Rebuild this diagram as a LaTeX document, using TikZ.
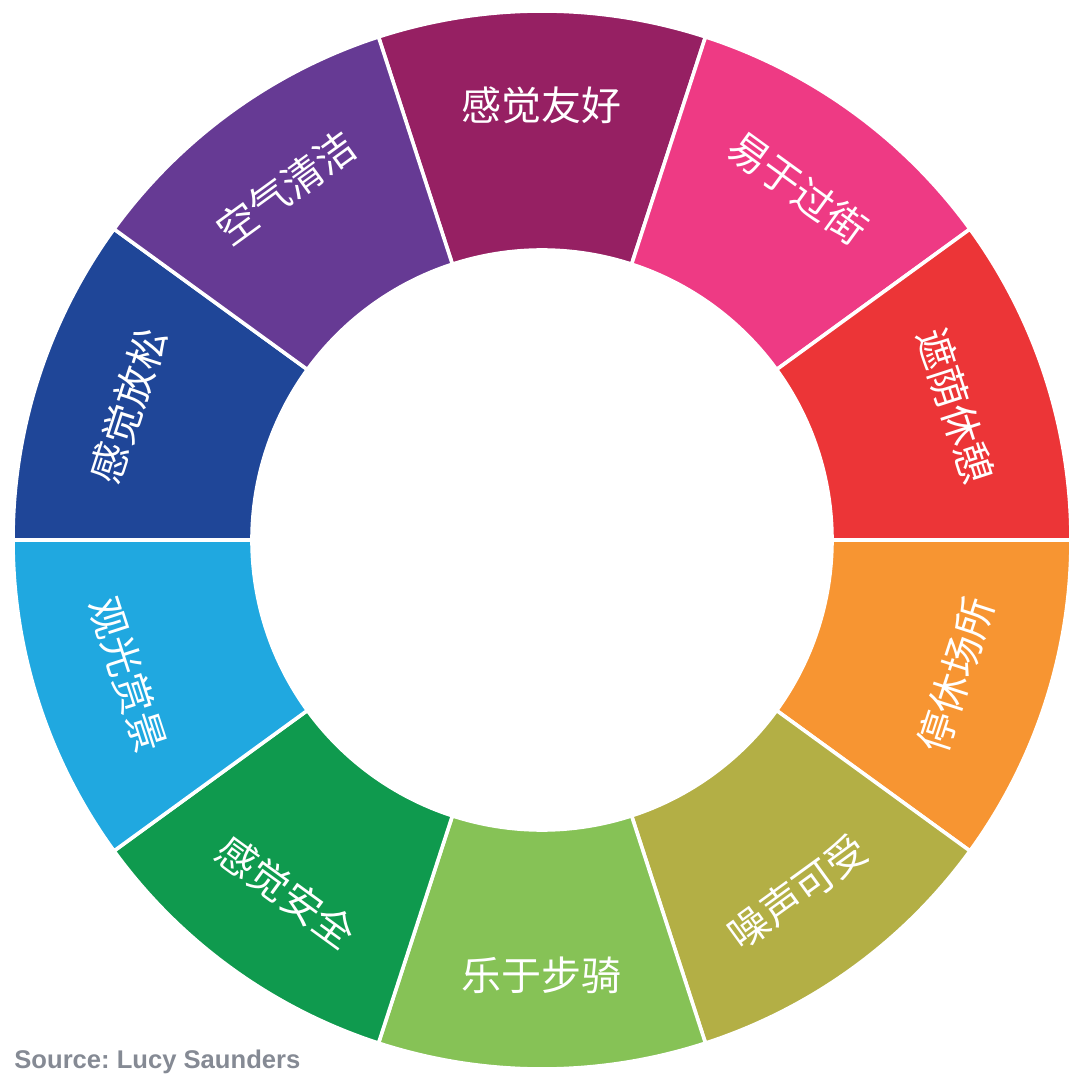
\documentclass[tikz,border=0pt]{standalone}
\usepackage{fontspec}
\setmainfont{Liberation Sans}
\newfontfamily\cjk{Noto Sans CJK SC}
\definecolor{friendly}{HTML}{962063}
\definecolor{crossing}{HTML}{EE3A84}
\definecolor{shade}{HTML}{EC3537}
\definecolor{stopping}{HTML}{F79532}
\definecolor{noise}{HTML}{B3AF45}
\definecolor{cycling}{HTML}{86C256}
\definecolor{safe}{HTML}{0F9A4E}
\definecolor{views}{HTML}{20A8E0}
\definecolor{relaxed}{HTML}{1F4698}
\definecolor{cleanair}{HTML}{663A94}
\definecolor{sourcegray}{HTML}{858A94}
\frenchspacing
\begin{document}
\begin{tikzpicture}[
  x=0.5pt, y=0.5pt,
  seg/.style={draw=white, line width=1.8pt},
  seglabel/.style={text=white, inner sep=0pt, font=\cjk\fontsize{20}{20}\selectfont}
]
\useasboundingbox (-542,-542) rectangle (538,540);

% ring segments with their labels
\foreach \a/\c/\t/\r in {
  90/friendly/感觉友好/0, 54/crossing/易于过街/-36, 18/shade/遮荫休憩/-72,
  -18/stopping/停休场所/72, -54/noise/噪声可受/36, -90/cycling/乐于步骑/0,
  -126/safe/感觉安全/-36, -162/views/观光赏景/-72, 162/relaxed/感觉放松/72,
  126/cleanair/空气清洁/36} {
  \filldraw[seg, fill=\c] (\a-18:290) arc[start angle=\a-18, end angle=\a+18, radius=290]
    -- (\a+18:529) arc[start angle=\a+18, end angle=\a-18, radius=529] -- cycle;
  \node[seglabel, rotate=\r] (\c) at (\a:435) {\t};
}

\node[anchor=base west, text=sourcegray, font=\bfseries\fontsize{12.8}{14}\selectfont, inner sep=0pt] (source) at (-528,-528) {Source: Lucy Saunders};
\end{tikzpicture}
\end{document}
